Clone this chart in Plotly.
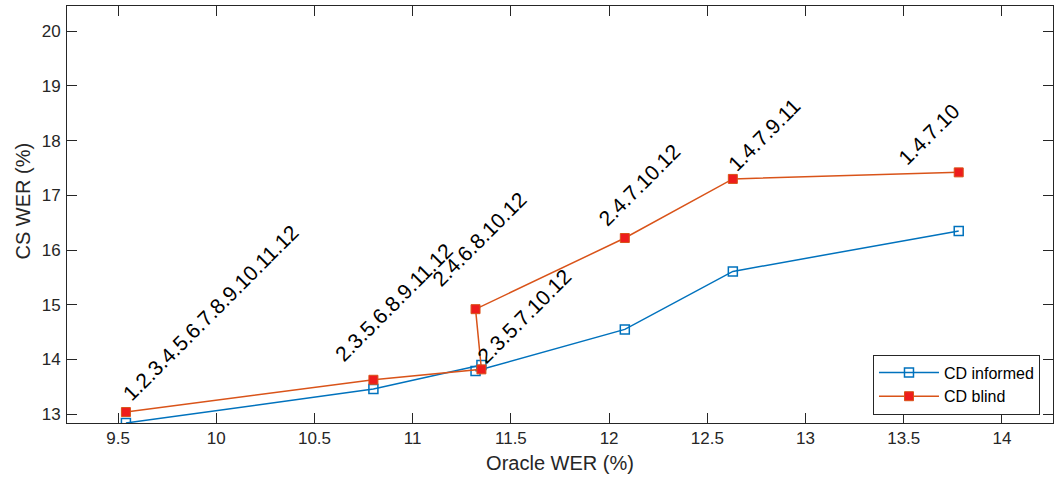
import plotly.graph_objects as go

configs = ["1.2.3.4.5.6.7.8.9.10.11.12", "2.3.5.6.8.9.11.12", "2.3.5.7.10.12",
           "2.4.6.8.10.12", "2.4.7.10.12", "1.4.7.9.11", "1.4.7.10"]
oracle_wer = [9.54, 10.80, 11.35, 11.32, 12.08, 12.63, 13.78]
cd_informed = [12.84, 13.46, 13.90, 13.79, 14.55, 15.61, 16.35]
cd_blind = [13.04, 13.63, 13.82, 14.92, 16.22, 17.30, 17.42]

x_ticks = [9.5, 10, 10.5, 11, 11.5, 12, 12.5, 13, 13.5, 14]
x_tick_text = ["9.5", "10", "10.5", "11", "11.5", "12", "12.5", "13", "13.5", "14"]
y_ticks = [13, 14, 15, 16, 17, 18, 19, 20]

# pixel shifts of each label relative to its CD blind point (style only)
label_shift = [(-10, 4), (-46, 11), (-11, -1), (-50, 16), (-33, 5), (-12, 1), (-68, 0)]

FONT = "Liberation Sans, Arial, Helvetica, sans-serif"
GRAY = "#262626"

fig = go.Figure()
fig.add_trace(go.Scatter(
    x=oracle_wer, y=cd_informed, mode="lines+markers", name="CD informed",
    line=dict(color="#0072BD", width=1.5),
    marker=dict(symbol="square-open", size=9, color="#0072BD", line=dict(width=1.5)),
))
fig.add_trace(go.Scatter(
    x=oracle_wer, y=cd_blind, mode="lines+markers", name="CD blind",
    line=dict(color="#D95319", width=1.5),
    marker=dict(symbol="square", size=9, color="#EE1C1C", line=dict(color="#D95319", width=1)),
))

for xv, yv, txt, (dx, dy) in zip(oracle_wer, cd_blind, configs, label_shift):
    fig.add_annotation(
        x=xv, y=yv, xref="x", yref="y", text=txt, showarrow=False,
        textangle=-45, xanchor="left", yanchor="bottom",
        xshift=dx, yshift=dy,
        font=dict(family=FONT, size=21, color="#000000"),
    )

fig.add_annotation(
    x=0, y=0.5, xref="paper", yref="paper", text="CS WER (%)", showarrow=False,
    textangle=-90, xanchor="center", yanchor="middle", xshift=-45, yshift=13,
    font=dict(family=FONT, size=20, color=GRAY),
)

axis_common = dict(
    showline=True, linecolor=GRAY, linewidth=1, mirror="ticks",
    ticks="inside", ticklen=10, tickcolor=GRAY, tickwidth=1,
    showgrid=False, zeroline=False,
    tickfont=dict(family=FONT, size=17, color=GRAY),
)

fig.update_layout(
    width=1054, height=480,
    margin=dict(l=67, r=1, t=6, b=57),
    paper_bgcolor="white", plot_bgcolor="white",
    font=dict(family=FONT, color=GRAY),
    xaxis=dict(range=[9.24, 14.26], tickvals=x_ticks, ticktext=x_tick_text,
               title=dict(text="Oracle WER (%)", font=dict(family=FONT, size=20, color=GRAY), standoff=8),
               **axis_common),
    yaxis=dict(range=[12.84, 20.46], tickvals=y_ticks, ticklabelstandoff=2, **axis_common),
    legend=dict(x=0.9868, y=0.0923, xanchor="right", yanchor="middle",
                bgcolor="white", bordercolor=GRAY, borderwidth=1,
                font=dict(family=FONT, size=16, color="#000000"),
                tracegroupgap=0, itemwidth=60),
    showlegend=True,
)

fig.write_html("out.html")
